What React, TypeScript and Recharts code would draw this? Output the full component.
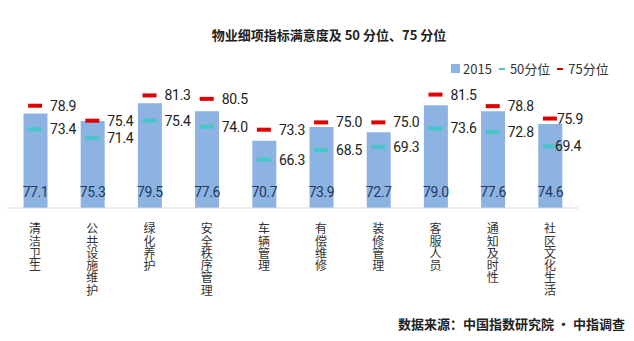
import { ComposedChart, Bar, Scatter, XAxis, YAxis, LabelList } from 'recharts';

// 物业细项指标满意度
const categories = ['清洁卫生', '公共设施维护', '绿化养护', '安全秩序管理', '车辆管理', '有偿维修', '装修管理', '客服人员', '通知及时性', '社区文化生活'];
const score2015 = [77.1, 75.3, 79.5, 77.6, 70.7, 73.9, 72.7, 79.0, 77.6, 74.6];
const pct50 = [73.4, 71.4, 75.4, 74.0, 66.3, 68.5, 69.3, 73.6, 72.8, 69.4];
const pct75 = [78.9, 75.4, 81.3, 80.5, 73.3, 75.0, 75.0, 81.5, 78.8, 75.9];

const BAR = '#8db3e2';
const RED = '#e00000';
const TEAL = '#45c6c8';
const CJK = '"Noto Sans CJK SC", "Noto Sans", sans-serif';
const NUM = 'Roboto, "Liberation Sans", sans-serif';

const data = categories.map((name, i) => ({
  name,
  v2015: score2015[i],
  p50: pct50[i],
  p75: pct75[i],
}));

const lastIdx = categories.length - 1;

const marker = (color: string) => (props: any) => {
  const { cx, cy, index, payload } = props;
  const val = color === RED ? payload.p75 : payload.p50;
  const dx = index === lastIdx ? (color === RED ? 7 : 5) : 15;
  return (
    <g>
      <rect x={cx - 7} y={cy - 2} width={14} height={4} fill={color} />
      <text x={cx + dx} y={cy} dy="0.36em" fontSize={14} fontFamily={NUM} fill="#222" letterSpacing={-0.3}>
        {val.toFixed(1)}
      </text>
    </g>
  );
};

// 竖排分类名
const CatTick = (props: any) => {
  const { x, y, payload } = props;
  const chars = String(payload.value).split('');
  return (
    <g>
      {chars.map((c, i) => (
        <text key={i} x={x} y={y + 7 + i * 12.3} dy="0.85em" textAnchor="middle" fontSize={12} fontFamily={CJK} fill="#333">
          {c}
        </text>
      ))}
    </g>
  );
};

const BarValue = (props: any) => {
  const { x, y, width, height, value } = props;
  return (
    <text x={x + width / 2} y={y + height - 16} dy="0.36em" textAnchor="middle" fontSize={14} fontFamily={NUM} fill="#1f3a5f" letterSpacing={-0.4}>
      {Number(value).toFixed(1)}
    </text>
  );
};

export default function App() {
  return (
    <div style={{ position: 'fixed', left: 0, top: 0, width: 634, height: 341, background: '#fff' }}>
      <div style={{ position: 'absolute', left: 0, width: 634, top: 25, textAlign: 'center', fontFamily: CJK, fontWeight: 'bold', fontSize: 13, color: '#222', paddingLeft: 24, boxSizing: 'border-box' }}>
        物业细项指标满意度及 50 分位、75 分位
      </div>
      <div style={{ position: 'absolute', left: 451, top: 59, display: 'flex', alignItems: 'center', fontFamily: CJK, fontSize: 13, color: '#333', whiteSpace: 'nowrap' }}>
        <span style={{ width: 9, height: 9, background: BAR, marginRight: 3 }} />
        <span>2015</span>
        <span style={{ width: 6, height: 2, background: TEAL, margin: '0 5px 0 7px' }} />
        <span>50分位</span>
        <span style={{ width: 6, height: 2, background: RED, margin: '0 5px 0 7px' }} />
        <span>75分位</span>
      </div>
      <ComposedChart width={634} height={341} data={data} margin={{ top: 79.6, right: 55.5, bottom: 13, left: 6.5 }}>
        <XAxis dataKey="name" axisLine={{ stroke: '#d9d9d9' }} tickLine={false} interval={0} tick={<CatTick />} height={120} />
        <YAxis hide domain={[55, 85]} allowDataOverflow />
        <Bar dataKey="v2015" fill={BAR} barSize={24} isAnimationActive={false}>
          <LabelList dataKey="v2015" content={<BarValue />} />
        </Bar>
        <Scatter dataKey="p50" shape={marker(TEAL)} isAnimationActive={false} />
        <Scatter dataKey="p75" shape={marker(RED)} isAnimationActive={false} />
      </ComposedChart>
      <div style={{ position: 'absolute', right: 9, top: 314, fontFamily: CJK, fontWeight: 'bold', fontSize: 13, color: '#222' }}>
        数据来源：中国指数研究院 • 中指调查
      </div>
    </div>
  );
}
